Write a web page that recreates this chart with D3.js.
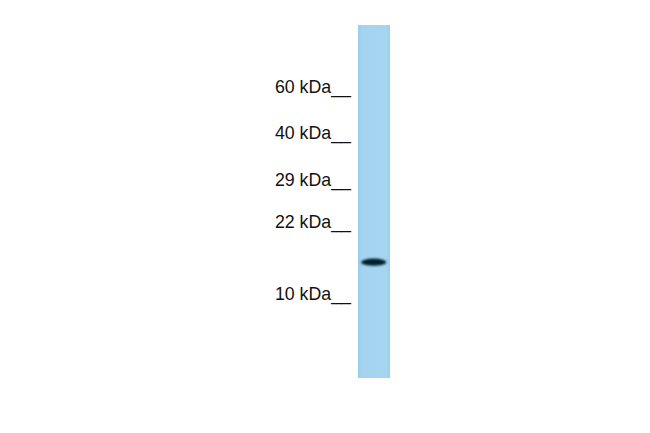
<!DOCTYPE html>
<html>
<head>
<meta charset="utf-8">
<script src="https://cdn.jsdelivr.net/npm/d3@7"></script>
<style>
  html, body { margin: 0; padding: 0; background: #fff; }
  svg { display: block; }
  .marker { font-family: "Liberation Sans", Arial, sans-serif; font-size: 17.8px; fill: #111; }
</style>
</head>
<body>
<svg id="blot" width="650" height="433"></svg>
<script>
// Molecular weight markers and their relative migration (0 = top of lane, 1 = bottom)
const markerLabels = ['60 kDa', '40 kDa', '29 kDa', '22 kDa', '10 kDa'];
const markerRf = [0.193, 0.323, 0.456, 0.576, 0.780];

// Detected bands in the single lane
const bandRf = [0.672];
const bandIntensity = [1];

const svg = d3.select('#blot');

// lane geometry
const lane = { x: 358, width: 32, top: 25, bottom: 378 };

const y = d3.scaleLinear()
    .domain([0, 1])
    .range([lane.top, lane.bottom]);

const defs = svg.append('defs');

const grad = defs.append('linearGradient')
    .attr('id', 'laneGrad')
    .attr('x1', 0).attr('x2', 1).attr('y1', 0).attr('y2', 0);
grad.append('stop').attr('offset', '0%').attr('stop-color', '#98cbea');
grad.append('stop').attr('offset', '12%').attr('stop-color', '#a4d4f0');
grad.append('stop').attr('offset', '88%').attr('stop-color', '#a5d5f0');
grad.append('stop').attr('offset', '100%').attr('stop-color', '#9ccdeb');

defs.append('filter')
    .attr('id', 'blur')
    .attr('x', '-20%').attr('y', '-100%')
    .attr('width', '140%').attr('height', '300%')
  .append('feGaussianBlur')
    .attr('stdDeviation', '1.0 0.9');

// lane
svg.append('rect')
    .attr('x', lane.x)
    .attr('y', y(0))
    .attr('width', lane.width)
    .attr('height', y(1) - y(0))
    .attr('fill', 'url(#laneGrad)');

// bands
svg.selectAll('.band')
    .data(bandRf)
    .join('ellipse')
    .attr('class', 'band')
    .attr('cx', lane.x + lane.width / 2 - 0.3)
    .attr('cy', d => y(d))
    .attr('rx', 12.5)
    .attr('ry', 3.6)
    .attr('fill', '#05222f')
    .attr('opacity', (d, i) => bandIntensity[i])
    .attr('filter', 'url(#blur)');

// marker labels
svg.selectAll('.marker')
    .data(markerRf)
    .join('text')
    .attr('class', 'marker')
    .attr('x', 351)
    .attr('y', d => y(d))
    .attr('text-anchor', 'end')
    .text((d, i) => markerLabels[i] + '__');
</script>
</body>
</html>
